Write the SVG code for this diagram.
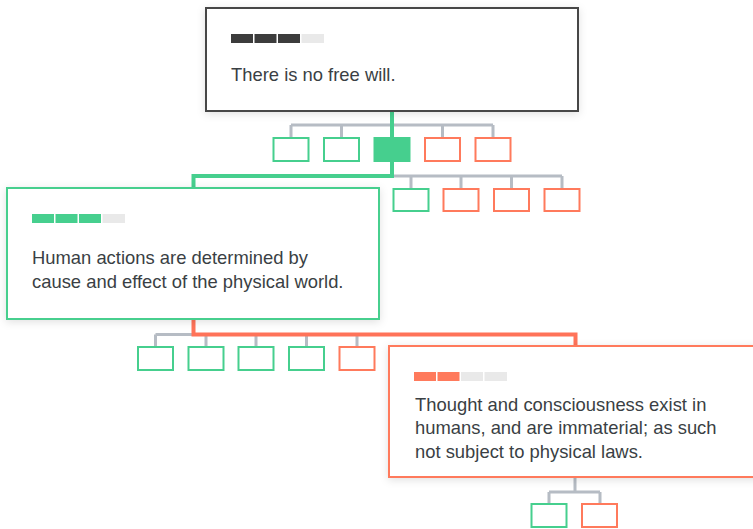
<svg xmlns="http://www.w3.org/2000/svg" width="753" height="529" viewBox="0 0 753 529">
<defs>
<filter id="sh" x="-10%" y="-20%" width="120%" height="140%">
<feDropShadow dx="0" dy="2" stdDeviation="4" flood-color="#000" flood-opacity="0.12"/>
</filter>
<style>
.card{fill:#fff;stroke-width:2;filter:url(#sh)}
.dark{stroke:#474747}
.g{stroke:#46cf8e}
.r{stroke:#ff7a5c}
.sb{fill:#fff;stroke-width:2}
.sbf{fill:#46cf8e;stroke:#46cf8e;stroke-width:2}
.gl{fill:none;stroke:#b6bcc4;stroke-width:3}
.gc{fill:none;stroke:#46cf8e;stroke-width:4}
.rc{fill:none;stroke:#ff7359;stroke-width:4}
.t{font-family:"Liberation Sans",Arial,sans-serif;font-size:18.4px;fill:#3a3f44}
.bd{fill:#3c3c3c}
.bg{fill:#46cf8e}
.br{fill:#ff7a5c}
.be{fill:#e9e9e9}
</style>
</defs>

<g id="connectors">
<path class="gl" d="M291,125 H493 M291,125 V137 M341.5,125 V137 M442.5,125 V137 M493,125 V137"/>
<path class="gl" d="M392,176 H562 M411,176 V188 M461,176 V188 M511.5,176 V188 M562,176 V188"/>
<path class="gl" d="M155.5,334.5 H357 M155.5,334.5 V346 M206,334.5 V346 M256,334.5 V346 M306.5,334.5 V346 M357,334.5 V346"/>
<path class="gl" d="M575,477 V492 M549,492 H600 M549,492 V503 M600,492 V503"/>
<path class="gc" d="M392,111 V176 H193.5 V188"/>
<path class="rc" d="M193.5,320 V334.5 H575.5 V346"/>
</g>

<g id="claim-root">
<rect class="card dark" x="206" y="8" width="372" height="103"/>
<rect class="bd" x="231" y="34" width="22" height="9"/>
<rect class="bd" x="254.5" y="34" width="22" height="9"/>
<rect class="bd" x="278" y="34" width="22" height="9"/>
<rect class="be" x="301.5" y="34" width="22.5" height="9"/>
<text class="t" x="231" y="81">There is no free will.</text>
</g>

<g id="l1-1"><rect class="sb g" x="273.5" y="138" width="35" height="23"/></g>
<g id="l1-2"><rect class="sb g" x="324" y="138" width="35" height="23"/></g>
<g id="l1-3"><rect class="sbf" x="374.5" y="138" width="35" height="23"/></g>
<g id="l1-4"><rect class="sb r" x="425" y="138" width="35" height="23"/></g>
<g id="l1-5"><rect class="sb r" x="475.5" y="138" width="35" height="23"/></g>

<g id="l2-2"><rect class="sb g" x="393.5" y="189" width="35" height="22"/></g>
<g id="l2-3"><rect class="sb r" x="443.5" y="189" width="35" height="22"/></g>
<g id="l2-4"><rect class="sb r" x="494" y="189" width="35" height="22"/></g>
<g id="l2-5"><rect class="sb r" x="544.5" y="189" width="35" height="22"/></g>

<g id="claim-determinism">
<rect class="card g" x="7" y="188" width="372" height="131"/>
<rect class="bg" x="32" y="214" width="22" height="9"/>
<rect class="bg" x="55.5" y="214" width="22" height="9"/>
<rect class="bg" x="79" y="214" width="22" height="9"/>
<rect class="be" x="102.5" y="214" width="22.5" height="9"/>
<text class="t" x="32" y="264">Human actions are determined by</text>
<text class="t" x="32" y="287.5">cause and effect of the physical world.</text>
</g>

<g id="l3-1"><rect class="sb g" x="138" y="347" width="35" height="23"/></g>
<g id="l3-2"><rect class="sb g" x="188.5" y="347" width="35" height="23"/></g>
<g id="l3-3"><rect class="sb g" x="238.5" y="347" width="35" height="23"/></g>
<g id="l3-4"><rect class="sb g" x="289" y="347" width="35" height="23"/></g>
<g id="l3-5"><rect class="sb r" x="339.5" y="347" width="35" height="23"/></g>

<g id="claim-immaterial">
<rect class="card r" x="389" y="346" width="372" height="131"/>
<rect class="br" x="414" y="372" width="22" height="9"/>
<rect class="br" x="437.5" y="372" width="22" height="9"/>
<rect class="be" x="461" y="372" width="22" height="9"/>
<rect class="be" x="484.5" y="372" width="22.5" height="9"/>
<text class="t" x="415" y="410.5">Thought and consciousness exist in</text>
<text class="t" x="415" y="434">humans, and are immaterial; as such</text>
<text class="t" x="415" y="457.5">not subject to physical laws.</text>
</g>

<g id="l4-1"><rect class="sb g" x="531.5" y="504" width="35" height="23"/></g>
<g id="l4-2"><rect class="sb r" x="582" y="504" width="35" height="23"/></g>
</svg>
